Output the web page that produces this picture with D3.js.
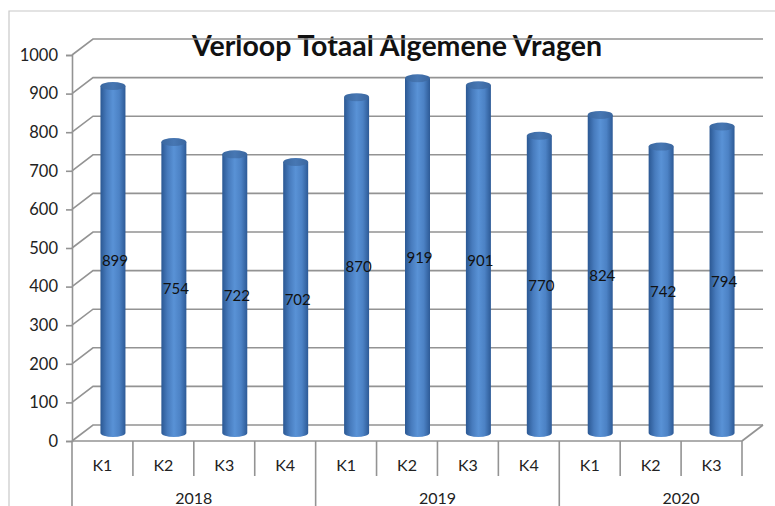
<!DOCTYPE html>
<head>
  <meta charset="utf-8">
  <script src="https://d3js.org/d3.v7.min.js"></script>
  <style>
    body { margin:0; background:#fff; }
    svg { display:block; }
    text { font-family: Lato, "Open Sans", sans-serif; }
  </style>
</head>

<body>
  <script>
    // data
    var years = ["2018", "2019", "2020"],
        quarters = ["K1", "K2", "K3", "K4", "K1", "K2", "K3", "K4", "K1", "K2", "K3"],
        yearOf = ["2018", "2018", "2018", "2018", "2019", "2019", "2019", "2019", "2020", "2020", "2020"],
        values = [899, 754, 722, 702, 870, 919, 901, 770, 824, 742, 794],
        yTicks = [0, 100, 200, 300, 400, 500, 600, 700, 800, 900, 1000];

    var W = 775, H = 506,
        depthX = 21, depthY = -16,   // 3d wall offset
        gridColor = "#939393";

    var svg = d3.select("body").append("svg")
        .attr("width", W).attr("height", H);

    var defs = svg.append("defs");

    // cylinder shading
    var grad = defs.append("linearGradient").attr("id", "cyl")
        .attr("x1", 0).attr("x2", 1).attr("y1", 0).attr("y2", 0);
    [[0, "#2b5893"], [0.25, "#477bbd"], [0.5, "#5992d6"], [0.75, "#4c82c5"], [1, "#2d5a96"]]
      .forEach(function(s){ grad.append("stop").attr("offset", s[0]).attr("stop-color", s[1]); });

    var capGrad = defs.append("linearGradient").attr("id", "cap")
        .attr("x1", 0).attr("x2", 1).attr("y1", 0).attr("y2", 0);
    [[0, "#3a679f"], [0.5, "#4777b3"], [1, "#3a669f"]]
      .forEach(function(s){ capGrad.append("stop").attr("offset", s[0]).attr("stop-color", s[1]); });

    var x = d3.scaleBand().domain(d3.range(quarters.length)).range([72, 742]).padding(0);
    var y = d3.scaleLinear().domain([0, 1000]).range([441, 55]);
    var step = x.step();

    // outer frame
    svg.append("path")
      .attr("d", "M9," + H + "V11H" + W)
      .attr("fill", "none").attr("stroke", "#c8c8c8").attr("stroke-width", 1.2);

    // title
    svg.append("text")
      .attr("x", 397).attr("y", 56)
      .attr("text-anchor", "middle")
      .style("font-size", "28.5px").style("font-weight", "bold")
      .attr("fill", "#111")
      .text("Verloop Totaal Algemene Vragen");

    var grid = svg.append("g").attr("stroke", gridColor).attr("stroke-width", 1.6).attr("fill", "none");

    // back wall gridlines + side wall diagonals
    grid.selectAll(".gl").data(yTicks).enter().append("path")
      .attr("d", function(d){
        return "M72," + y(d) + "L" + (72 + depthX) + "," + (y(d) + depthY) + "H" + (742 + depthX);
      });

    // floor
    grid.append("path")
      .attr("d", "M742," + y(0) + "L" + (742 + depthX) + "," + (y(0) + depthY));

    // y axis
    var yAxis = d3.axisLeft(y).tickValues(yTicks).tickFormat(d3.format("d")).tickSize(6).tickPadding(8);
    var ya = svg.append("g").attr("transform", "translate(72,0)").call(yAxis);
    ya.select(".domain").attr("stroke", gridColor).attr("stroke-width", 1.6);
    ya.selectAll(".tick line").attr("stroke", gridColor).attr("stroke-width", 1.6);
    ya.selectAll(".tick text").style("font-size", "16.5px").attr("fill", "#222").attr("font-family", null);

    // category axis, two levels
    var cat = svg.append("g").attr("stroke", gridColor).attr("stroke-width", 1.6);
    cat.append("line").attr("x1", 72).attr("x2", 742).attr("y1", y(0)).attr("y2", y(0));
    cat.selectAll(".qd").data(d3.range(quarters.length + 1)).enter().append("line")
      .attr("x1", function(i){ return 72 + i * step; })
      .attr("x2", function(i){ return 72 + i * step; })
      .attr("y1", y(0))
      .attr("y2", function(i){
        return (i < quarters.length && (i === 0 || yearOf[i] !== yearOf[i - 1])) ? H : 476;
      });

    svg.selectAll(".ql").data(quarters).enter().append("text")
      .attr("x", function(d, i){ return x(i) + step / 2; })
      .attr("y", 471)
      .attr("text-anchor", "middle")
      .style("font-size", "16px").attr("fill", "#222")
      .text(function(d){ return d; });

    svg.selectAll(".yl").data(years).enter().append("text")
      .attr("x", function(d){ return x(yearOf.indexOf(d)) + 2 * step; })
      .attr("y", 504)
      .attr("text-anchor", "middle")
      .style("font-size", "16px").attr("fill", "#222")
      .text(function(d){ return d; });

    // cylinders
    var bw = 25, ry = 4;
    var bars = svg.selectAll(".bar").data(values).enter().append("g")
      .attr("transform", function(d, i){
        return "translate(" + (x(i) + step / 2 + depthX / 2) + "," + (depthY / 2) + ")";
      });

    bars.append("path")
      .attr("d", function(d){
        var t = y(d), b = y(0);
        return "M" + (-bw / 2) + "," + t + "V" + b +
          "A" + (bw / 2) + "," + ry + " 0 0 0 " + (bw / 2) + "," + b +
          "V" + t + "Z";
      })
      .attr("fill", "url(#cyl)");

    bars.append("ellipse")
      .attr("cx", 0).attr("cy", function(d){ return y(d); })
      .attr("rx", bw / 2).attr("ry", ry)
      .attr("fill", "url(#cap)");

    // data labels in the middle of each bar
    bars.append("text")
      .attr("x", 2)
      .attr("y", function(d){ return (y(d) + y(0)) / 2 + 7; })
      .attr("text-anchor", "middle")
      .style("font-size", "15px").attr("fill", "#111")
      .text(function(d){ return d; });
  </script>
</body>

</html>
